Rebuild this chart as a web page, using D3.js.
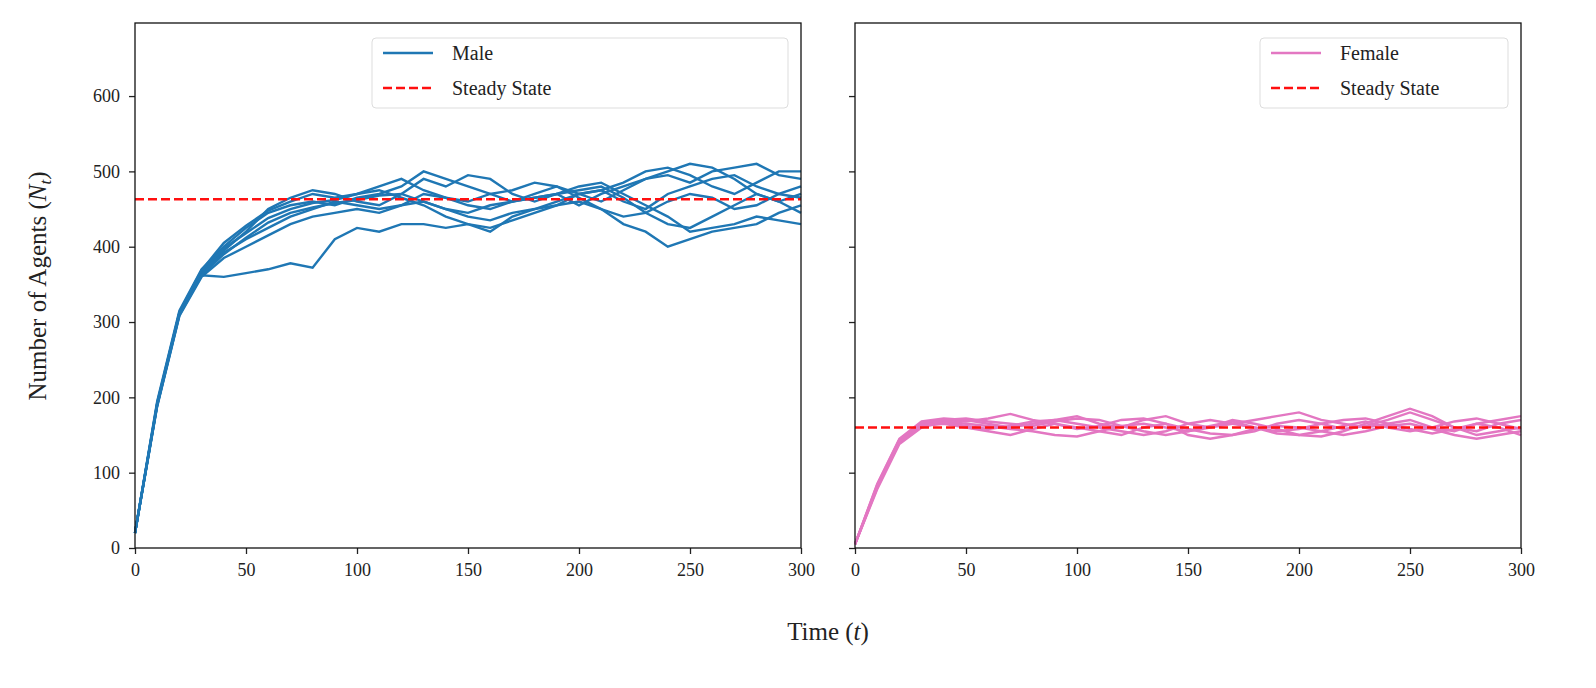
<!DOCTYPE html>
<html><head><meta charset="utf-8">
<script src="https://cdn.jsdelivr.net/npm/d3@7"></script>
<style>body{margin:0;background:#fff}text{font-family:"Liberation Serif","DejaVu Serif",serif;fill:#222}</style>
</head><body><svg id="c" width="1596" height="688"></svg>
<script>
const times = d3.range(0, 301, 10);
const xTicks = [0,50,100,150,200,250,300];
const yTicks = [0,100,200,300,400,500,600];
const maleSteady = 463, femaleSteady = 160;
const maleSeries = [
[20,195,315,370,400,425,445,455,460,455,465,470,480,500,490,480,470,460,465,470,455,470,480,490,495,485,500,505,510,495,490],
[20,190,310,365,395,420,450,465,475,470,460,455,470,490,480,495,490,470,460,470,480,485,470,455,440,420,425,430,440,435,430],
[20,188,308,360,385,400,415,430,440,445,450,445,455,460,450,440,435,445,450,460,470,475,460,450,470,480,490,495,480,470,465],
[20,192,312,362,360,365,370,378,372,410,425,420,430,430,425,430,420,440,450,455,460,450,430,420,400,410,420,425,430,445,455],
[20,190,312,368,398,418,438,450,458,462,470,475,465,455,440,430,425,435,445,455,470,475,485,500,505,495,480,470,485,500,500],
[20,191,311,366,392,410,425,440,450,460,455,450,455,470,465,455,450,460,470,480,465,450,440,445,460,470,465,450,455,470,480],
[20,189,309,362,390,412,432,445,452,458,462,468,470,460,450,445,455,460,465,470,475,480,465,445,430,425,440,455,470,460,445],
[20,193,313,369,405,428,448,460,470,465,470,480,490,475,465,460,470,475,485,480,470,460,475,490,500,510,505,490,470,460,470]];
const femaleSeries = [
[5,85,145,168,172,170,165,160,165,170,175,165,160,170,175,165,160,165,170,175,180,170,165,160,165,170,160,155,165,170,175],
[5,80,140,162,165,160,155,150,158,165,160,155,150,160,165,158,152,150,155,165,170,165,158,162,170,180,170,160,150,155,160],
[5,82,142,165,170,168,172,178,170,165,158,162,170,172,165,150,145,150,158,162,160,155,150,155,162,165,158,150,145,150,155],
[5,78,138,160,168,165,162,158,155,150,148,155,162,165,160,155,160,170,165,158,150,148,155,165,175,185,175,160,155,165,170],
[5,84,144,166,170,172,168,165,162,168,172,170,162,155,150,155,162,168,160,155,158,165,170,172,165,158,152,158,165,160,150],
[5,81,141,163,167,162,158,162,168,170,165,160,155,150,155,165,170,165,160,152,150,155,162,168,160,155,160,168,172,165,158]];

const svg = d3.select("#c");
const y = d3.scaleLinear().domain([0,697]).range([548,23]);
function panel(x0, x1, series, steady, color, name, showLabels, legX, legW){
  const x = d3.scaleLinear().domain([0,300]).range([x0,x1]);
  const g = svg.append("g");
  const line = d3.line().x((d,i)=>x(times[i])).y(d=>y(d));
  series.forEach(s=>g.append("path").attr("d",line(s)).attr("fill","none").attr("stroke",color).attr("stroke-width",2.4));
  g.append("line").attr("x1",x0).attr("x2",x1).attr("y1",y(steady)).attr("y2",y(steady))
    .attr("stroke","#ff0f0f").attr("stroke-width",2.4).attr("stroke-dasharray","9,4");
  const xa = g.append("g").attr("transform","translate(0,548)").call(d3.axisBottom(x).tickValues(xTicks).tickSize(6).tickPadding(9));
  const ya = g.append("g").attr("transform",`translate(${x0},0)`).call(d3.axisLeft(y).tickValues(yTicks).tickSize(6).tickPadding(9).tickFormat(showLabels?d3.format("d"):""));
  [xa,ya].forEach(a=>{a.selectAll("text").style("font-size","18px").style("font-family","Liberation Serif, serif").attr("fill","#222");a.select(".domain").remove();a.selectAll("line").attr("stroke","#222").attr("stroke-width",1.3);});
  g.append("rect").attr("x",x0).attr("y",23).attr("width",x1-x0).attr("height",525).attr("fill","none").attr("stroke","#111").attr("stroke-width",1.3);
  const lg = g.append("g");
  lg.append("rect").attr("x",legX).attr("y",38).attr("width",legW).attr("height",70).attr("rx",4).attr("fill","#fff").attr("fill-opacity",0.8).attr("stroke","#ddd");
  lg.append("line").attr("x1",legX+11).attr("x2",legX+61).attr("y1",53).attr("y2",53).attr("stroke",color).attr("stroke-width",2.4);
  lg.append("line").attr("x1",legX+11).attr("x2",legX+61).attr("y1",88).attr("y2",88).attr("stroke","#ff0f0f").attr("stroke-width",2.4).attr("stroke-dasharray","9,4");
  lg.append("text").attr("x",legX+80).attr("y",60).attr("font-size","20px").text(name);
  lg.append("text").attr("x",legX+80).attr("y",95).attr("font-size","20px").text("Steady State");
}
panel(135,801,maleSeries,maleSteady,"#1f77b4","Male",true,372,416);
panel(855,1521,femaleSeries,femaleSteady,"#e377c2","Female",false,1260,248);
const xl = svg.append("text").attr("x",828).attr("y",640).attr("text-anchor","middle").attr("font-size","25px");
xl.append("tspan").text("Time (");xl.append("tspan").attr("font-style","italic").text("t");xl.append("tspan").text(")");
const yl = svg.append("text").attr("transform","translate(46,286) rotate(-90)").attr("text-anchor","middle").attr("font-size","25px");
yl.append("tspan").text("Number of Agents (");yl.append("tspan").attr("font-style","italic").text("N");
yl.append("tspan").attr("font-style","italic").attr("font-size","17px").attr("dy",5).text("t");
yl.append("tspan").attr("dy",-5).text(")");
</script></body></html>
